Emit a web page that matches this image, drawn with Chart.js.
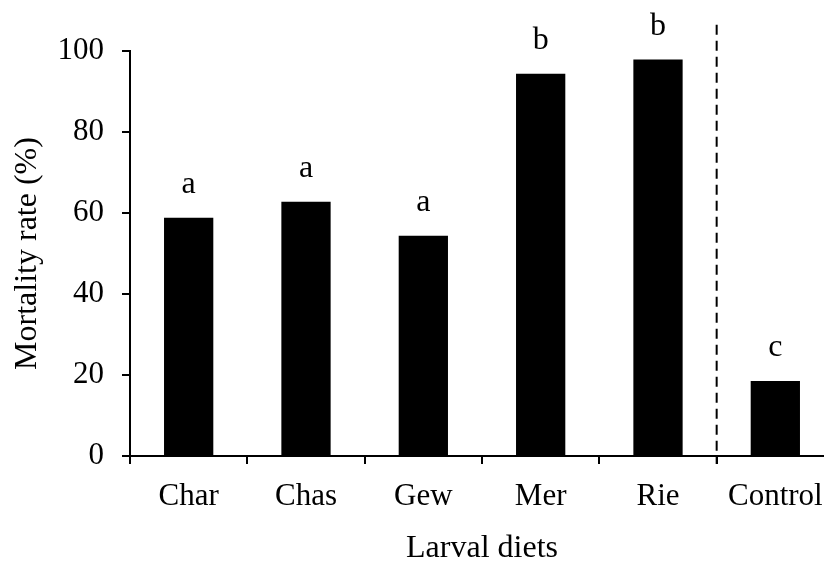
<!DOCTYPE html>
<html>
<head>
<meta charset="utf-8">
<script src="https://cdn.jsdelivr.net/npm/chart.js@4.4.1/dist/chart.umd.min.js"></script>
<style>
  html, body { margin: 0; padding: 0; background: #fff; overflow: hidden; }
  #wrap { width: 840px; height: 563px; }
</style>
</head>
<body>
<div id="wrap"><canvas id="chart" width="840" height="563"></canvas></div>
<script>
var diets = ['Char', 'Chas', 'Gew', 'Mer', 'Rie', 'Control'];
var mortality = [58.8, 62.8, 54.4, 94.4, 97.9, 18.5];
var groups = ['a', 'a', 'a', 'b', 'b', 'c'];
var yTicks = [0, 20, 40, 60, 80, 100];

var serif = 'Liberation Serif, Times New Roman, serif';

// letters over the bars + dashed separator before the control
var extras = {
    id: 'extras',
    afterDatasetsDraw: function (chart) {
        var ctx = chart.ctx;
        var xs = chart.scales.x, ys = chart.scales.y;
        var bars = chart.getDatasetMeta(0).data;
        ctx.save();
        ctx.fillStyle = '#000';
        ctx.font = '32px ' + serif;
        ctx.textAlign = 'center';
        ctx.textBaseline = 'alphabetic';
        bars.forEach(function (bar, i) {
            ctx.fillText(groups[i], bar.x, bar.y - 25);
        });

        var xSep = (xs.getPixelForValue(4) + xs.getPixelForValue(5)) / 2;
        ctx.strokeStyle = '#000';
        ctx.lineWidth = 2;
        ctx.setLineDash([10, 6]);
        ctx.beginPath();
        ctx.moveTo(xSep, ys.getPixelForValue(106.5));
        ctx.lineTo(xSep, ys.bottom + 8);
        ctx.stroke();
        ctx.restore();
    }
};

new Chart(document.getElementById('chart'), {
    type: 'bar',
    data: {
        labels: diets,
        datasets: [{
            data: mortality,
            backgroundColor: '#000',
            borderWidth: 0,
            barPercentage: 0.42,
            categoryPercentage: 1
        }]
    },
    options: {
        responsive: false,
        animation: false,
        layout: { padding: { top: 51, right: 6, bottom: 0, left: 0 } },
        plugins: {
            legend: { display: false },
            tooltip: { enabled: false }
        },
        scales: {
            x: {
                offset: true,
                grid: { display: true, drawOnChartArea: false, offset: true, color: '#000', lineWidth: 2, tickLength: 8 },
                border: { display: true, color: '#000', width: 2 },
                ticks: { color: '#000', font: { family: serif, size: 31 }, padding: 14, maxRotation: 0 },
                title: { display: true, text: 'Larval diets', color: '#000', font: { family: serif, size: 32 }, padding: { top: 0, bottom: -5 } },
                afterFit: function (scale) { scale.height = 107; }
            },
            y: {
                min: 0,
                max: 100,
                afterBuildTicks: function (scale) {
                    scale.ticks = yTicks.map(function (v) { return { value: v }; });
                },
                grid: { display: true, drawOnChartArea: false, color: '#000', lineWidth: 2, tickLength: 8 },
                border: { display: true, color: '#000', width: 2 },
                ticks: { color: '#000', font: { family: serif, size: 31 }, padding: 18 },
                title: { display: true, text: 'Mortality rate (%)', color: '#000', font: { family: serif, size: 32 }, padding: { top: 8, bottom: 0 } },
                afterFit: function (scale) { scale.width = 130; }
            }
        }
    },
    plugins: [extras]
});
</script>
</body>
</html>
